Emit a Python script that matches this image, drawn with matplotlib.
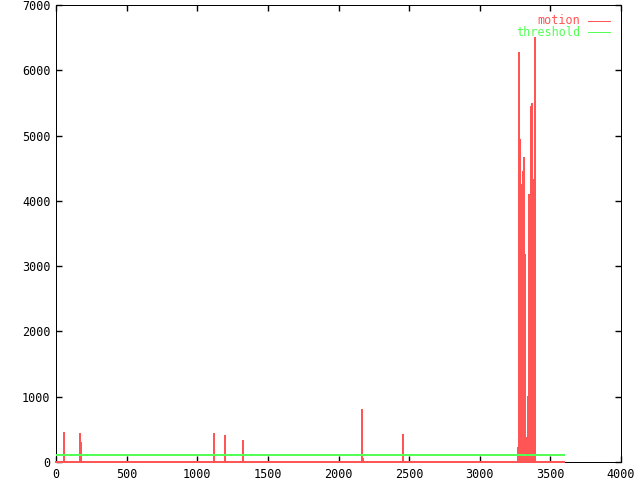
import numpy as np
import matplotlib
matplotlib.use("Agg")
import matplotlib.pyplot as plt

# frames 0..3600, motion is zero except for spikes
n_frames = 3601
threshold = 100

spike_frames = [59, 172, 179, 1121, 1199, 1326, 2169, 2459]
spike_values = [449, 429, 296, 429, 398, 322, 797, 413]

# burst: one value per ~7-frame column (one pixel wide)
burst_start = 3268
burst_values = [220, 6260, 4930, 4240, 2380, 4450, 4650, 3170, 370,
                100, 1000, 4090, 465, 5440, 5490, 3320, 4320, 6500]

RED = '#ff5555'
GREEN = '#55ff55'

frames = np.arange(n_frames)
motion = np.zeros(n_frames)
for f, v in zip(spike_frames, spike_values):
    motion[f] = v
for i, v in enumerate(burst_values):
    f0 = burst_start + 7 * i
    motion[f0 + 1:f0 + 7:2] = v
thresh = np.full(n_frames, threshold)

plt.rcParams['font.family'] = 'DejaVu Sans Mono'
fig = plt.figure(figsize=(6.4, 4.8), dpi=100)
ax = fig.add_axes([56 / 640, 18 / 480, 565 / 640, 457 / 480])

ax.plot(frames, motion, color=RED, lw=0.72, antialiased=False,
        clip_on=False, zorder=3, label='motion')
ax.plot(frames, thresh, color=GREEN, lw=0.72, antialiased=False,
        zorder=3, label='threshold')

ax.set_xlim(0, 4000)
ax.set_ylim(0, 7000)
ax.set_xticks(range(0, 4001, 500))
ax.set_yticks(range(0, 7001, 1000))
ax.tick_params(direction='in', length=4, width=1, top=True, right=True,
               labelsize=8.5, pad=4)
for s in ax.spines.values():
    s.set_linewidth(0.72)

# gnuplot-like key, top right
ax.text(580, 480 - 20.5, 'motion', transform=None, color=RED, fontsize=8.5,
        ha='right', va='center')
ax.text(580, 480 - 32.5, 'threshold', transform=None, color=GREEN, fontsize=8.5,
        ha='right', va='center')
fig.add_artist(plt.Line2D([588 / 640, 610 / 640], [1 - 21 / 480] * 2,
                          color=RED, lw=0.72, antialiased=False))
fig.add_artist(plt.Line2D([588 / 640, 610 / 640], [1 - 32 / 480] * 2,
                          color=GREEN, lw=0.72, antialiased=False))

fig.savefig('out.png', dpi=100)
